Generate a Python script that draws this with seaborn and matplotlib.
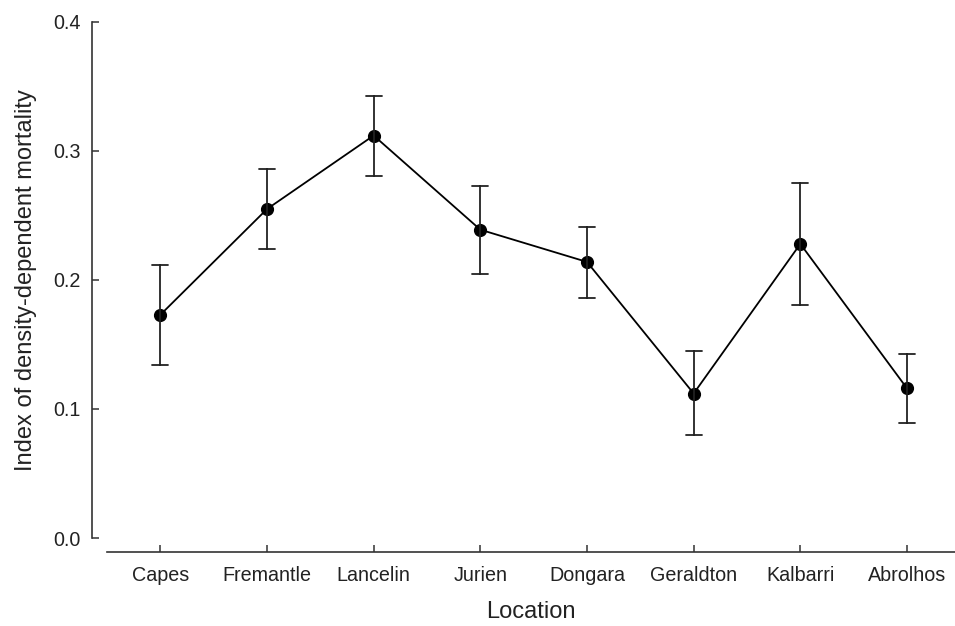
import numpy as np
import pandas as pd
import matplotlib
matplotlib.use("Agg")
import matplotlib.pyplot as plt
import seaborn as sns

locations = ["Capes", "Fremantle", "Lancelin", "Jurien", "Dongara",
             "Geraldton", "Kalbarri", "Abrolhos"]
index_mean = [0.173, 0.255, 0.312, 0.239, 0.214, 0.112, 0.228, 0.116]
index_low = [0.134, 0.224, 0.281, 0.205, 0.186, 0.080, 0.181, 0.089]
index_high = [0.212, 0.286, 0.343, 0.273, 0.241, 0.145, 0.275, 0.143]
y_ticks = [0.0, 0.1, 0.2, 0.3, 0.4]

# Long table: low / mean / high per location; median picks the mean,
# a 100% percentile interval spans low..high.
rows = []
for loc, lo, m, hi in zip(locations, index_low, index_mean, index_high):
    for v in (lo, m, hi):
        rows.append({"Location": loc, "value": v})
df = pd.DataFrame(rows)

sns.set_style("ticks")
plt.rcParams["font.family"] = ["Liberation Sans", "DejaVu Sans"]

W, H = 955, 626
fig = plt.figure(figsize=(W / 100, H / 100), dpi=100)
ax = fig.add_axes([107 / W, (H - 538) / H, (955 - 107) / W, (538 - 22) / H])

sns.pointplot(data=df, x="Location", y="value", order=locations,
              estimator="median", errorbar=("pi", 100),
              color="black", markers="o", markersize=8.5,
              linewidth=1.3, capsize=0.15,
              err_kws={"linewidth": 1.3, "color": "#222222"}, ax=ax)

ax.set_xlim(-0.5, 7.45)
ax.set_ylim(0, 0.4)
ax.set_yticks(y_ticks)
ax.set_yticklabels([f"{t:.1f}" for t in y_ticks])

sns.despine(ax=ax)
# offsets in points (1 px = 0.72 pt at 100 dpi)
ax.spines["left"].set_position(("outward", 10.8))
ax.spines["bottom"].set_position(("outward", 9.9))
ax.spines["left"].set_bounds(0, 0.4)
for s in ("left", "bottom"):
    ax.spines[s].set_linewidth(1.2)
    ax.spines[s].set_color("#333333")

ax.tick_params(direction="in", length=5, width=1.1, color="#333333",
               labelsize=14.2, labelcolor="#222222")
ax.tick_params(axis="x", pad=10)
ax.tick_params(axis="y", pad=8)

ax.set_xlabel("Location", fontsize=17, color="#222222", labelpad=12)
ax.set_ylabel("Index of density-dependent mortality", fontsize=17,
              color="#222222", labelpad=12)

fig.savefig("out.png", dpi=100)
